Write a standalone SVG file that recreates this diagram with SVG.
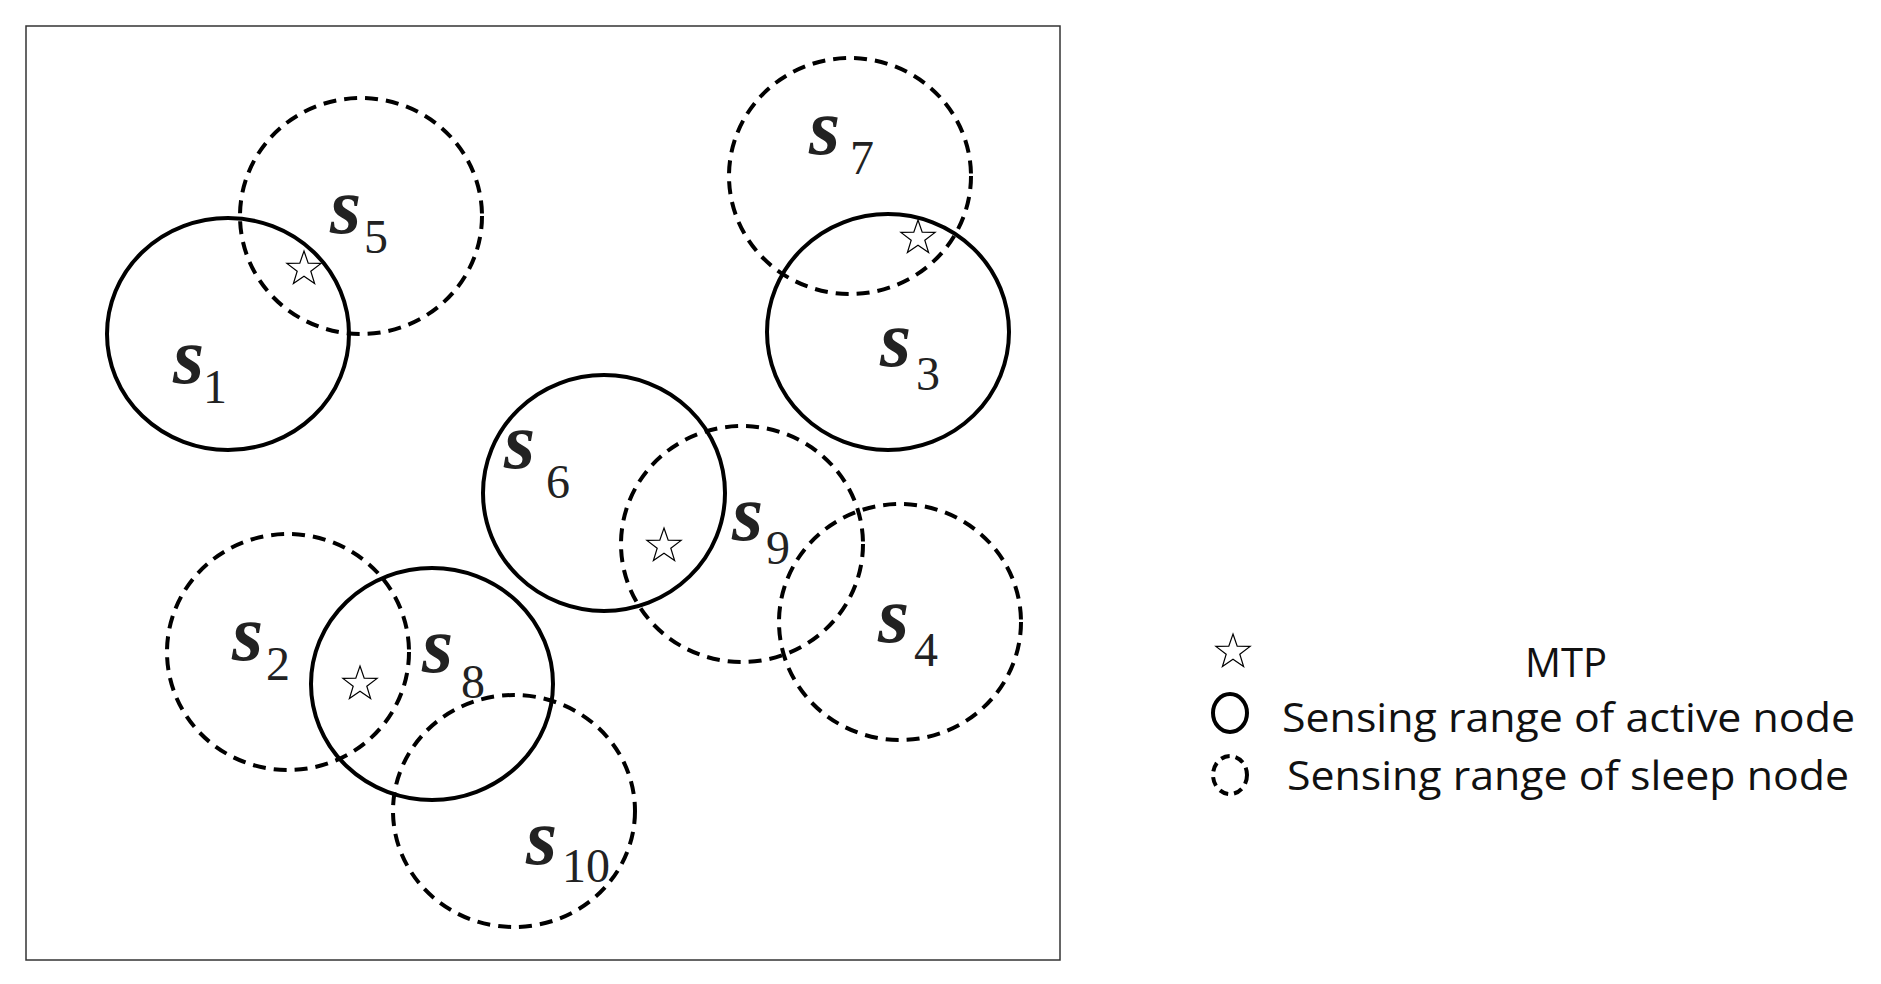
<svg xmlns="http://www.w3.org/2000/svg" width="1881" height="984" viewBox="0 0 1881 984">
<style>
.a{fill:none;stroke:#000;stroke-width:4}
.d{fill:none;stroke:#000;stroke-width:4;stroke-dasharray:13 8}
.s{font-family:"Liberation Serif",serif;font-style:italic;font-weight:bold;font-size:80px;fill:#222}
.n{font-family:"Liberation Serif",serif;font-size:48px;fill:#222}
.st{fill:#fff;stroke:#000;stroke-width:1.2}
.l{font-family:"Open Sans","Liberation Sans",sans-serif;font-size:40px;fill:#111}
</style>
<defs><polygon id="star" points="0,-18 4.2,-5.8 17.1,-5.6 6.8,2.2 10.6,14.6 0,7.2 -10.6,14.6 -6.8,2.2 -17.1,-5.6 -4.2,-5.8"/></defs>
<rect x="26" y="26" width="1034" height="934" fill="#fff" stroke="#333" stroke-width="1.5"/>
<g id="s5"><ellipse class="d" cx="361" cy="216" rx="121" ry="118"/><text class="s" x="330" y="233">s</text><text class="n" x="364" y="253">5</text></g>
<g id="s1"><ellipse class="a" cx="228" cy="334" rx="121" ry="116"/><text class="s" x="173" y="383">s</text><text class="n" x="203" y="403">1</text></g>
<g id="s7"><ellipse class="d" cx="850" cy="176" rx="121" ry="118"/><text class="s" x="809" y="154">s</text><text class="n" x="850" y="174">7</text></g>
<g id="s3"><ellipse class="a" cx="888" cy="332" rx="121" ry="118"/><text class="s" x="880" y="366">s</text><text class="n" x="916" y="390">3</text></g>
<g id="s6"><ellipse class="a" cx="604" cy="493" rx="121" ry="118"/><text class="s" x="504" y="468">s</text><text class="n" x="546" y="498">6</text></g>
<g id="s9"><ellipse class="d" cx="742" cy="544" rx="121" ry="118"/><text class="s" x="732" y="540">s</text><text class="n" x="766" y="564">9</text></g>
<g id="s4"><ellipse class="d" cx="900" cy="622" rx="121" ry="118"/><text class="s" x="878" y="642">s</text><text class="n" x="914" y="666">4</text></g>
<g id="s2"><ellipse class="d" cx="288" cy="652" rx="121" ry="118"/><text class="s" x="232" y="660">s</text><text class="n" x="266" y="680">2</text></g>
<g id="s8"><ellipse class="a" cx="432" cy="684" rx="121" ry="116"/><text class="s" x="422" y="672">s</text><text class="n" x="461" y="698">8</text></g>
<g id="s10"><ellipse class="d" cx="514" cy="811" rx="121" ry="116"/><text class="s" x="526" y="864">s</text><text class="n" x="562" y="882">10</text></g>
<g id="mtp"><use href="#star" class="st" x="304" y="269"/><use href="#star" class="st" x="918" y="238"/><use href="#star" class="st" x="664" y="546"/><use href="#star" class="st" x="360" y="684"/></g>
<g id="legend">
<use href="#star" class="st" x="1233" y="652"/>
<text class="l" x="1566" y="677" text-anchor="middle">MTP</text>
<ellipse cx="1230" cy="713" rx="17" ry="19" fill="none" stroke="#000" stroke-width="4"/>
<text class="l" x="1282" y="732" textLength="573" lengthAdjust="spacingAndGlyphs">Sensing range of active node</text>
<ellipse cx="1230" cy="775" rx="17" ry="19" fill="none" stroke="#000" stroke-width="4" stroke-dasharray="9 6"/>
<text class="l" x="1287" y="790" textLength="562" lengthAdjust="spacingAndGlyphs">Sensing range of sleep node</text>
</g>
</svg>
